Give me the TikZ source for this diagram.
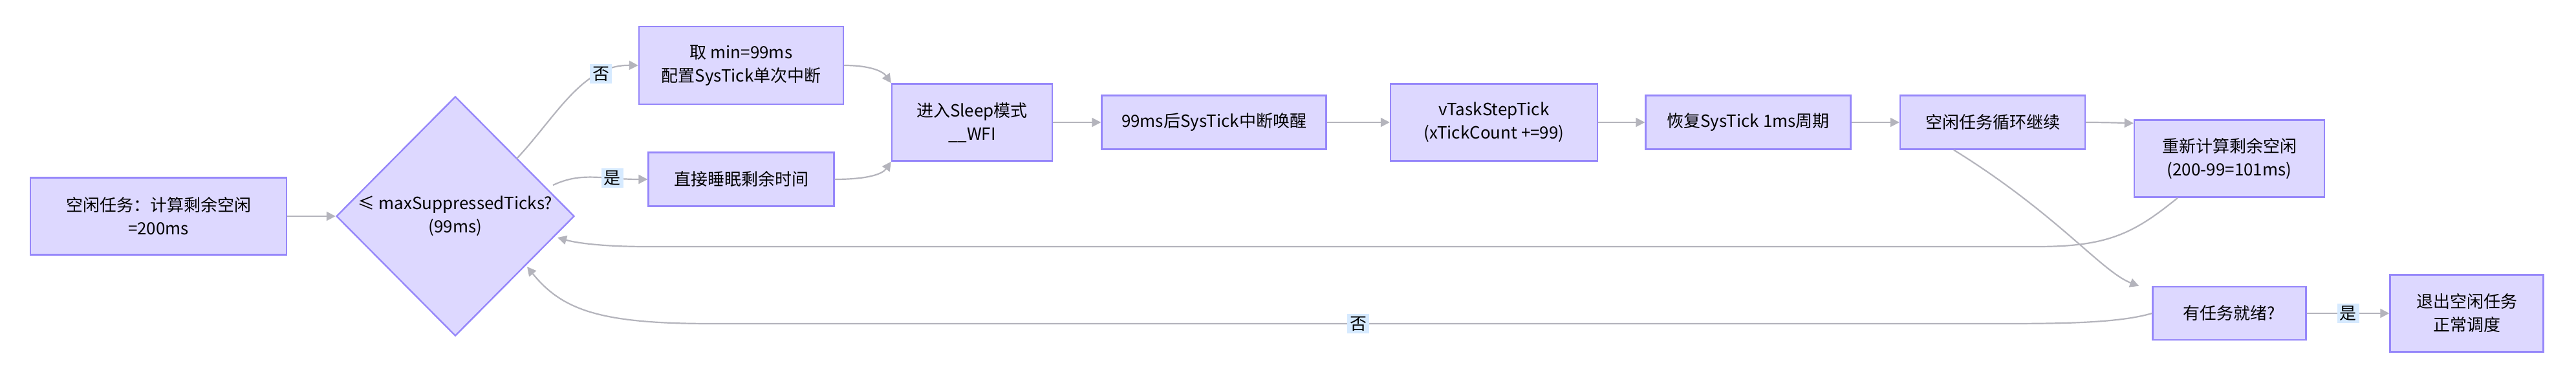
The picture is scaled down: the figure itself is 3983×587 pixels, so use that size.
\documentclass[tikz,border=0pt]{standalone}
\usepackage{fontspec}
\setmainfont{Noto Sans CJK SC}
\usetikzlibrary{shapes.geometric,arrows.meta}
\definecolor{nfill}{RGB}{221,216,255}
\definecolor{ndraw}{RGB}{150,135,250}
\definecolor{edge}{RGB}{180,180,188}
\definecolor{lbl}{RGB}{214,234,255}
\begin{document}
\begin{tikzpicture}[x=0.5pt,y=-0.5pt,
 box/.style={draw=ndraw,fill=nfill,line width=1.2pt,align=center,inner sep=2pt,font=\fontsize{13}{18}\selectfont},
 dia/.style={draw=ndraw,fill=nfill,line width=1.2pt,diamond,shape aspect=1,align=center,inner sep=0pt,minimum width=184pt,minimum height=185pt,font=\fontsize{13}{18}\selectfont},
 e/.style={draw=edge,line width=1.1pt,-{Triangle[length=7pt,width=7pt]}},
 lab/.style={fill=lbl,inner sep=2pt,font=\fontsize{13}{16}\selectfont}]
\useasboundingbox (0,0) rectangle (3983,587);
\node[box,minimum width=198pt,minimum height=59.5pt] (A) at (245,334) {空闲任务：计算剩余空闲\\=200ms};
\node[dia] (Q) at (704,334) {≤ maxSuppressedTicks?\\(99ms)};
\node[box,minimum width=158pt,minimum height=60pt] (B) at (1146,101) {取 min=99ms\\配置SysTick单次中断};
\node[box,minimum width=143.5pt,minimum height=41.5pt] (C) at (1146,277) {直接睡眠剩余时间};
\node[box,minimum width=124pt,minimum height=59.5pt] (D) at (1503,189) {进入Sleep模式\\\_\_WFI};
\node[box,minimum width=173.5pt,minimum height=41.5pt] (E) at (1877,189) {99ms后SysTick中断唤醒};
\node[box,minimum width=160pt,minimum height=59.5pt] (F) at (2310,189) {vTaskStepTick\\(xTickCount +=99)};
\node[box,minimum width=158.5pt,minimum height=41.5pt] (G) at (2703,189) {恢复SysTick 1ms周期};
\node[box,minimum width=143pt,minimum height=41.5pt] (H) at (3081,189) {空闲任务循环继续};
\node[box,minimum width=147pt,minimum height=59.5pt] (I) at (3447,245) {重新计算剩余空闲\\(200-99=101ms)};
\node[box,minimum width=118.5pt,minimum height=41pt] (J) at (3447,484) {有任务就绪?};
\node[box,minimum width=118.5pt,minimum height=59.5pt] (K) at (3814,484) {退出空闲任务\\正常调度};
\coordinate (q1) at (799,245);
\coordinate (q2) at (855,286);
\coordinate (q3) at (862,367);
\coordinate (q4) at (815,412);
\draw[e] (A) -- (Q);
\draw[e] (q1) .. controls (860,180) and (900,100) .. (B.west) node[lab,pos=0.75] {否};
\draw[e] (q2) .. controls (900,265) and (930,277) .. (C.west) node[lab,pos=0.7] {是};
\draw[e] (B.east) .. controls (1345,101) and (1365,110) .. (D.north west);
\draw[e] (C.east) .. controls (1345,277) and (1365,268) .. (D.south west);
\draw[e] (D) -- (E);
\draw[e] (E) -- (F);
\draw[e] (F) -- (G);
\draw[e] (G) -- (H);
\draw[e] (H.east) .. controls (3260,189) and (3285,190) .. ([yshift=-3pt]I.north west);
\draw[e] ([xshift=-30pt]H.south) .. controls (3180,330) and (3250,420) .. ([xshift=-10pt]J.north west);
\draw[e] ([xshift=-40pt]I.south) .. controls (3300,360) and (3260,381) .. (3150,381) -- (1000,381) .. controls (930,381) and (890,375) .. (q3);
\draw[e] (J.west) .. controls (3280,498) and (3200,500) .. (3100,500) -- node[lab] {否} (1100,500) .. controls (930,500) and (870,480) .. (q4);
\draw[e] (J) -- node[lab] {是} (K);
\end{tikzpicture}
\end{document}
